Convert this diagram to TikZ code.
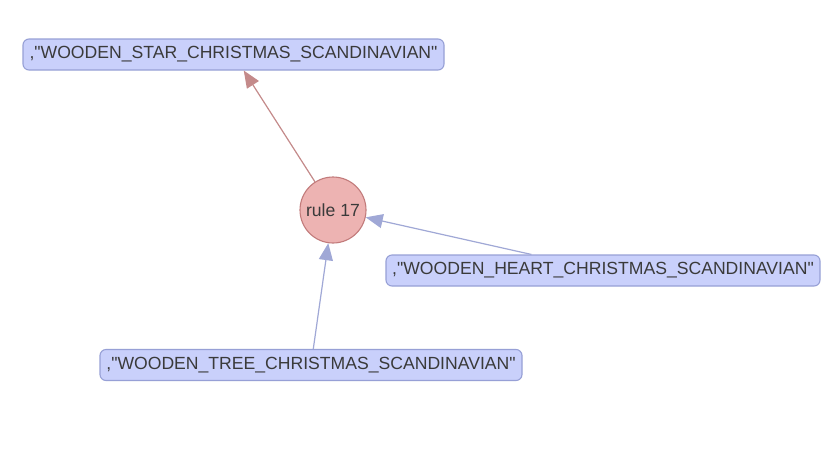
\documentclass[tikz,border=0pt]{standalone}
\usepackage{fontspec}
\newfontfamily\libsans{Liberation Sans}
\usetikzlibrary{arrows.meta}
\definecolor{boxfill}{HTML}{C9D0FB}
\definecolor{boxdraw}{HTML}{97A0D6}
\definecolor{circfill}{HTML}{EDB3B2}
\definecolor{circdraw}{HTML}{C27B7B}
\definecolor{redge}{HTML}{C48A8A}
\definecolor{bedge}{HTML}{A0A8D6}
\definecolor{txt}{HTML}{3A3A3A}
\newcommand{\dq}{\char34\relax}
\tikzset{
  itembox/.style={draw=boxdraw, fill=boxfill, rounded corners=6pt, line width=1.1pt,
    minimum height=31pt, inner xsep=3pt, inner ysep=2pt, text=txt, font=\libsans\fontsize{17.6pt}{20pt}\selectfont},
  rulenode/.style={circle, draw=circdraw, fill=circfill, line width=1.1pt,
    minimum size=66pt, inner sep=0pt, text=txt, font=\libsans\fontsize{17.6pt}{20pt}\selectfont},
  redarrow/.style={draw=redge, line width=1.2pt, -{Triangle[length=17pt,width=14pt]}, redge},
  bluearrow/.style={draw=bedge, line width=1.2pt, -{Triangle[length=17pt,width=14pt]}, bedge},
}
\begin{document}
\begin{tikzpicture}[x=1pt,y=-1pt]
\useasboundingbox[fill=white] (0,0) rectangle (835,448);
\node[itembox, minimum width=421pt] (star) at (233.5,54.5) {,\dq WOODEN\_STAR\_CHRISTMAS\_SCANDINAVIAN\dq};
\node[rulenode] (rule) at (333,210) {rule 17};
\node[itembox, minimum width=434pt] (heart) at (603,270.5) {,\dq WOODEN\_HEART\_CHRISTMAS\_SCANDINAVIAN\dq};
\node[itembox, minimum width=422pt] (tree) at (311,365) {,\dq WOODEN\_TREE\_CHRISTMAS\_SCANDINAVIAN\dq};
\draw[redarrow] (rule) -- (star);
\draw[bluearrow] (heart) -- (rule);
\draw[bluearrow] (tree) -- (rule);
\end{tikzpicture}
\end{document}
